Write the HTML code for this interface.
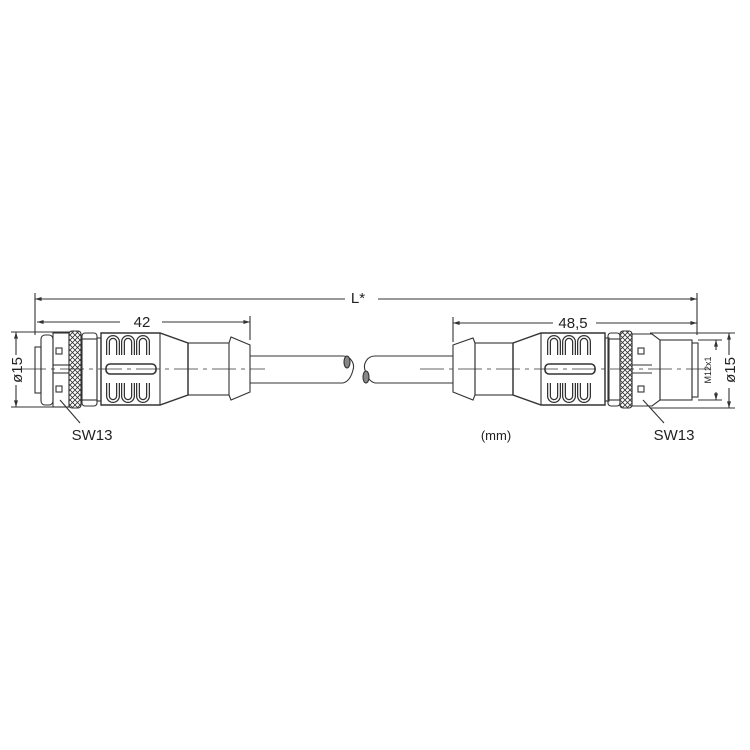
<!DOCTYPE html>
<html><head><meta charset="utf-8"><style>body{margin:0;background:#fff}svg{display:block}</style></head><body>
<svg width="750" height="750" viewBox="0 0 750 750" xmlns="http://www.w3.org/2000/svg" font-family="Liberation Sans, sans-serif">
<defs>
<pattern id="kn" width="5" height="5" patternUnits="userSpaceOnUse"><rect width="5" height="5" fill="#fff"/><path d="M0 0L5 5M5 0L0 5" stroke="#333" stroke-width="0.8"/></pattern>
<marker id="a" viewBox="0 0 10 10" refX="10" refY="5" markerWidth="8" markerHeight="6" orient="auto-start-reverse"><path d="M0 2L10 5L0 8z" fill="#333"/></marker>
</defs>
<g stroke="#333" fill="none" stroke-width="1.1">
<line x1="35" y1="293" x2="35" y2="335"/><line x1="697" y1="293" x2="697" y2="335"/>
<line x1="35" y1="299" x2="345" y2="299" marker-start="url(#a)"/><line x1="378" y1="299" x2="697" y2="299" marker-end="url(#a)"/>
<line x1="37" y1="322" x2="120" y2="322" marker-start="url(#a)"/><line x1="162" y1="322" x2="250" y2="322" marker-end="url(#a)"/>
<line x1="250" y1="316" x2="250" y2="340"/>
<line x1="453" y1="317" x2="453" y2="342"/>
<line x1="453" y1="323" x2="553" y2="323" marker-start="url(#a)"/><line x1="596" y1="323" x2="697" y2="323" marker-end="url(#a)"/>
<line x1="11" y1="332" x2="70" y2="332"/><line x1="11" y1="407" x2="70" y2="407"/>
<line x1="16" y1="332" x2="16" y2="355" marker-start="url(#a)"/><line x1="16" y1="385" x2="16" y2="407" marker-end="url(#a)"/>
<line x1="650" y1="333" x2="735" y2="333"/><line x1="650" y1="408" x2="735" y2="408"/>
<line x1="698" y1="340" x2="722" y2="340"/><line x1="698" y1="400" x2="722" y2="400"/>
<line x1="729" y1="333" x2="729" y2="355" marker-start="url(#a)"/><line x1="729" y1="388" x2="729" y2="408" marker-end="url(#a)"/>
<line x1="716" y1="340" x2="716" y2="350" marker-start="url(#a)"/><line x1="716" y1="392" x2="716" y2="400" marker-end="url(#a)"/>

<!-- LEFT CONNECTOR -->
<rect x="35" y="347" width="6" height="46"/>
<rect x="41" y="335" width="12" height="70" rx="4"/>
<rect x="53" y="333" width="16" height="74"/>
<line x1="53" y1="365" x2="69" y2="365"/><line x1="53" y1="373" x2="69" y2="373"/>
<rect x="56" y="348" width="6" height="6"/><rect x="56" y="386" width="6" height="6"/>
<rect x="69" y="331" width="12" height="77" rx="3" fill="url(#kn)"/>
<rect x="82" y="333" width="15" height="73" rx="3"/><line x1="82" y1="339" x2="97" y2="339"/><line x1="82" y1="400" x2="97" y2="400"/>
<rect x="97" y="338" width="4" height="63"/>
<path d="M101 333H160L188 343V395L160 405H101Z" stroke-width="1.4"/>
<line x1="160" y1="333" x2="160" y2="405"/>
<g stroke-width="4"><path d="M108 355V342a5 5 0 0 1 10 0V355M123 355V342a5 5 0 0 1 10 0V355M138 355V342a5 5 0 0 1 10 0V355"/>
<path d="M108 383V396a5 5 0 0 0 10 0V383M123 383V396a5 5 0 0 0 10 0V383M138 383V396a5 5 0 0 0 10 0V383"/></g>
<g stroke="#fff" stroke-width="1.5"><path d="M108 355V342a5 5 0 0 1 10 0V355M123 355V342a5 5 0 0 1 10 0V355M138 355V342a5 5 0 0 1 10 0V355"/>
<path d="M108 383V396a5 5 0 0 0 10 0V383M123 383V396a5 5 0 0 0 10 0V383M138 383V396a5 5 0 0 0 10 0V383"/></g>
<rect x="106" y="364" width="50" height="10" rx="4" stroke-width="1.6"/>
<rect x="188" y="343" width="41" height="52"/>
<path d="M229 343L231 337L250 345V392L231 400L229 395"/>
<path d="M250 356H343M250 383H343"/>
<path d="M343 356c8 0 12 8 10 14c-2 8-6 12-10 13"/>
<ellipse cx="347" cy="362" rx="3" ry="6" fill="#888"/>
<path d="M375 356c-8 0-12 8-10 14c2 8 6 12 10 13"/>
<ellipse cx="366" cy="377" rx="3" ry="6" fill="#888"/>
<path d="M375 356H453M375 383H453"/>

<!-- RIGHT CONNECTOR -->
<path d="M453 345L473 338L475 343V395L473 400L453 392Z"/>
<rect x="475" y="343" width="38" height="52"/>
<path d="M513 343L541 333H605V405H541L513 395Z" stroke-width="1.4"/>
<line x1="541" y1="333" x2="541" y2="405"/>
<g stroke-width="4"><path d="M549 355V342a5 5 0 0 1 10 0V355M564 355V342a5 5 0 0 1 10 0V355M579 355V342a5 5 0 0 1 10 0V355"/>
<path d="M549 383V396a5 5 0 0 0 10 0V383M564 383V396a5 5 0 0 0 10 0V383M579 383V396a5 5 0 0 0 10 0V383"/></g>
<g stroke="#fff" stroke-width="1.5"><path d="M549 355V342a5 5 0 0 1 10 0V355M564 355V342a5 5 0 0 1 10 0V355M579 355V342a5 5 0 0 1 10 0V355"/>
<path d="M549 383V396a5 5 0 0 0 10 0V383M564 383V396a5 5 0 0 0 10 0V383M579 383V396a5 5 0 0 0 10 0V383"/></g>
<rect x="545" y="364" width="50" height="10" rx="4" stroke-width="1.6"/>
<rect x="605" y="338" width="4" height="63"/>
<rect x="608" y="333" width="12" height="73" rx="3"/><line x1="608" y1="339" x2="620" y2="339"/><line x1="608" y1="400" x2="620" y2="400"/>
<rect x="620" y="331" width="12" height="77" rx="3" fill="url(#kn)"/>
<path d="M632 334H652L660 340V400L652 406H632Z"/>
<line x1="632" y1="365" x2="652" y2="365"/><line x1="632" y1="373" x2="652" y2="373"/>
<rect x="638" y="348" width="6" height="6"/><rect x="638" y="386" width="6" height="6"/>
<rect x="660" y="340" width="32" height="60"/>
<rect x="692" y="343" width="6" height="54"/>

<path d="M22 369H265M420 369H710" stroke-dasharray="24 5 4 5" stroke-width="0.8"/>
<line x1="60" y1="400" x2="80" y2="423"/><line x1="643" y1="400" x2="664" y2="423"/>
</g>
<g fill="#222" font-size="15">
<text x="358" y="303" text-anchor="middle">L*</text>
<text x="142" y="327" text-anchor="middle">42</text>
<text x="573" y="328" text-anchor="middle">48,5</text>
<text x="92" y="440" text-anchor="middle">SW13</text>
<text x="674" y="440" text-anchor="middle">SW13</text>
<text x="496" y="440" text-anchor="middle" font-size="13">(mm)</text>
<text transform="translate(22 370) rotate(-90)" text-anchor="middle">ø15</text>
<text transform="translate(735 370) rotate(-90)" text-anchor="middle">ø15</text>
<text transform="translate(711 370) rotate(-90)" text-anchor="middle" font-size="9">M12x1</text>
</g>
</svg>
</body></html>
